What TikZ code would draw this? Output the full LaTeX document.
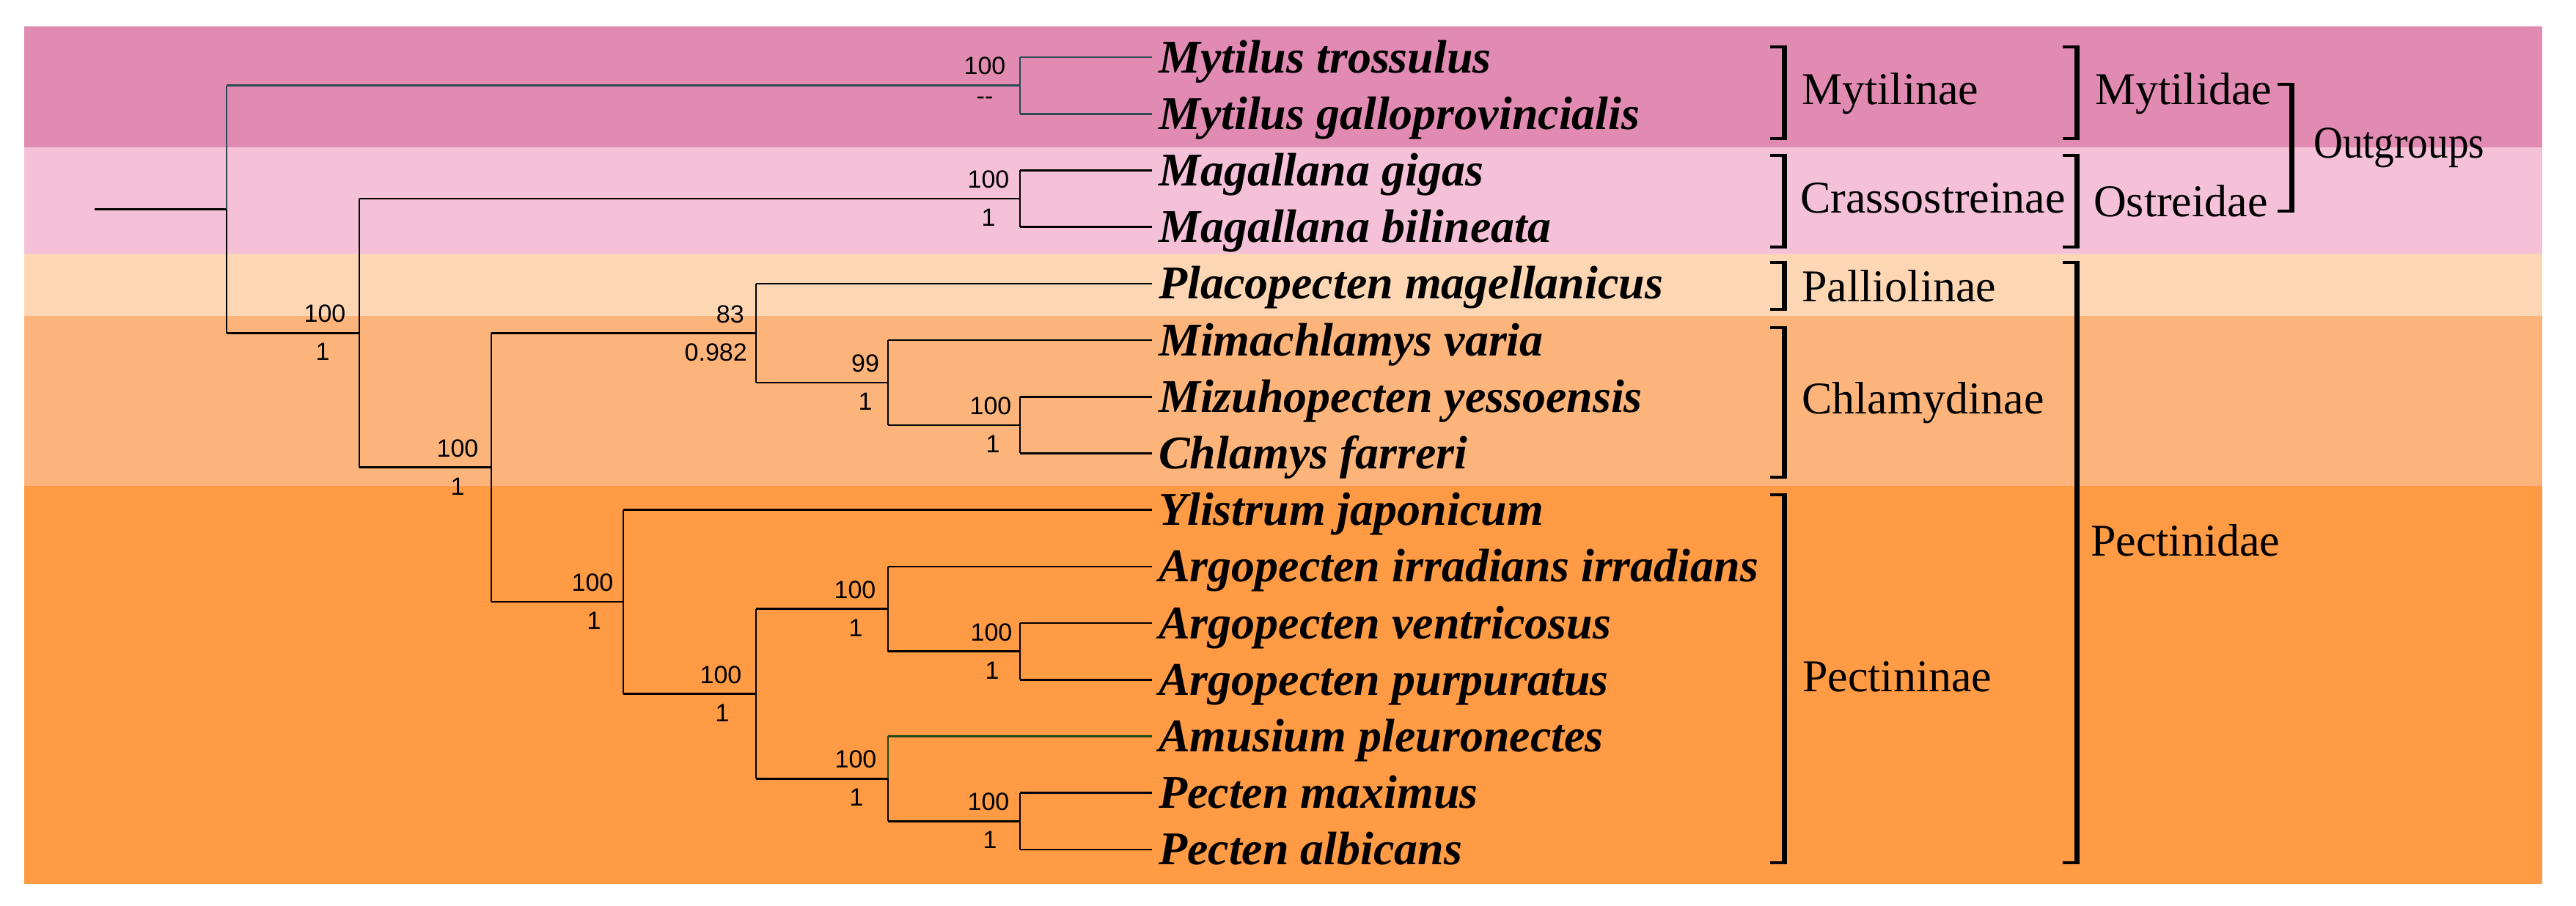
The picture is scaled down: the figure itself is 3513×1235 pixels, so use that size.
\documentclass[tikz,border=0pt]{standalone}
\usepackage{fontspec}
\setmainfont{Liberation Serif}
\newfontfamily\lsans{Liberation Sans}
\definecolor{bandA}{HTML}{E28BB2}
\definecolor{bandB}{HTML}{F4C1D9}
\definecolor{bandC}{HTML}{FDD6B4}
\definecolor{bandD}{HTML}{FDB47B}
\definecolor{bandE}{HTML}{FF9A45}
\definecolor{tealbr}{HTML}{2C4A52}
\definecolor{greenbr}{HTML}{1E4A12}
\newcommand{\clade}[3][black]{%
  \draw[vbr,#1] (#2) -- (#2 |- #3);
  \draw[hbr,#1] (#2 |- #3) -- (#3);}
\newcommand{\brak}[3]{%
  \draw[brkv] (#1,#2-2) -- (#1,#3+2);
  \draw[brks] (#1-19,#2) -- (#1+3.5,#2);
  \draw[brks] (#1-19,#3) -- (#1+3.5,#3);}
\begin{document}
\begin{tikzpicture}[x=1pt,y=-1pt,
  vbr/.style={line width=1.5pt},
  hbr/.style={line width=2.6pt},
  leaf/.style={anchor=base west, inner sep=0pt, font=\fontsize{64}{64}\selectfont\bfseries\itshape},
  grp/.style={anchor=base west, inner sep=0pt, font=\fontsize{62}{62}\selectfont},
  sup/.style={anchor=base, inner sep=0pt, font=\lsans\fontsize{34}{34}\selectfont},
  supr/.style={anchor=base east, inner sep=0pt, font=\lsans\fontsize{34}{34}\selectfont},
  brkv/.style={line width=7pt},
  brks/.style={line width=4.5pt}]
\useasboundingbox (0,0) rectangle (3513,1235);
\fill[white] (0,0) rectangle (3513,1235);
% background bands
\fill[bandA] (33,36) rectangle (3467,201);
\fill[bandB] (33,201) rectangle (3467,346);
\fill[bandC] (33,346) rectangle (3467,431);
\fill[bandD] (33,431) rectangle (3467,663);
\fill[bandE] (33,663) rectangle (3467,1206);

% leaf tips
\coordinate (t0) at (1571,78.0);
\coordinate (t1) at (1571,155.2);
\coordinate (t2) at (1571,232.4);
\coordinate (t3) at (1571,309.6);
\coordinate (t4) at (1571,386.8);
\coordinate (t5) at (1571,464.0);
\coordinate (t6) at (1571,541.2);
\coordinate (t7) at (1571,618.4);
\coordinate (t8) at (1571,695.6);
\coordinate (t9) at (1571,772.8);
\coordinate (t10) at (1571,850.0);
\coordinate (t11) at (1571,927.2);
\coordinate (t12) at (1571,1004.4);
\coordinate (t13) at (1571,1081.6);
\coordinate (t14) at (1571,1158.8);

% internal nodes
\coordinate (r0) at (129,285.5);
\coordinate (root) at (309,285.5);
\coordinate (nM) at (1391,116.6);
\coordinate (nN1) at (490,454.3);
\coordinate (nG) at (1391,271);
\coordinate (nN2) at (670,637.7);
\coordinate (n83) at (1031,454.35);
\coordinate (n99) at (1211,521.9);
\coordinate (nZ) at (1391,579.8);
\coordinate (nN3) at (850,821);
\coordinate (nN4) at (1031,946.5);
\coordinate (nA1) at (1211,830.7);
\coordinate (nA2) at (1391,888.6);
\coordinate (nP1) at (1211,1062.3);
\coordinate (nP2) at (1391,1120.2);

% branches
\draw[hbr] (r0) -- (root);
\clade[tealbr]{root}{nM}
\clade{root}{nN1}
\clade[tealbr]{nM}{t0}
\clade[tealbr]{nM}{t1}
\clade{nN1}{nG}
\clade{nN1}{nN2}
\clade{nG}{t2}
\clade{nG}{t3}
\clade{nN2}{n83}
\clade{nN2}{nN3}
\clade{n83}{t4}
\clade{n83}{n99}
\clade{n99}{t5}
\clade{n99}{nZ}
\clade{nZ}{t6}
\clade{nZ}{t7}
\clade{nN3}{t8}
\clade{nN3}{nN4}
\clade{nN4}{nA1}
\clade{nN4}{nP1}
\clade{nA1}{t9}
\clade{nA1}{nA2}
\clade{nA2}{t10}
\clade{nA2}{t11}
\clade[greenbr]{nP1}{t12}
\clade{nP1}{nP2}
\clade{nP2}{t13}
\clade{nP2}{t14}

% leaf labels
\node[leaf] (L0) at (1580,99) {Mytilus trossulus};
\node[leaf] (L1) at (1580,176.2) {Mytilus galloprovincialis};
\node[leaf] (L2) at (1580,253.4) {Magallana gigas};
\node[leaf] (L3) at (1580,330.6) {Magallana bilineata};
\node[leaf] (L4) at (1580,407.8) {Placopecten magellanicus};
\node[leaf] (L5) at (1580,485.0) {Mimachlamys varia};
\node[leaf] (L6) at (1580,562.2) {Mizuhopecten yessoensis};
\node[leaf] (L7) at (1580,639.4) {Chlamys farreri};
\node[leaf] (L8) at (1580,716.6) {Ylistrum japonicum};
\node[leaf] (L9) at (1580,793.8) {Argopecten irradians irradians};
\node[leaf] (L10) at (1580,871.0) {Argopecten ventricosus};
\node[leaf] (L11) at (1580,948.2) {Argopecten purpuratus};
\node[leaf] (L12) at (1580,1025.4) {Amusium pleuronectes};
\node[leaf] (L13) at (1580,1102.6) {Pecten maximus};
\node[leaf] (L14) at (1580,1179.8) {Pecten albicans};

% support values
\node[sup] (sM1) at (1343,101.6) {100};
\node[sup] (sM2) at (1343,142) {--};
\node[sup] (sG1) at (1348,256) {100};
\node[sup] (sG2) at (1348,308) {1};
\node[sup] (sZ1) at (1351,565) {100};
\node[sup] (sZ2) at (1354,617) {1};
\node[sup] (s991) at (1180,507) {99};
\node[sup] (s992) at (1180,559) {1};
\node[supr] (s831) at (1015,440) {83};
\node[supr] (s832) at (1019,492) {0.982};
\node[sup] (sN11) at (443,439) {100};
\node[sup] (sN12) at (440,491) {1};
\node[sup] (sN21) at (624,623) {100};
\node[sup] (sN22) at (624,675) {1};
\node[sup] (sN31) at (808,806) {100};
\node[sup] (sN32) at (810,858) {1};
\node[sup] (sN41) at (983,932) {100};
\node[sup] (sN42) at (985,984) {1};
\node[sup] (sA11) at (1166,816) {100};
\node[sup] (sA12) at (1167,868) {1};
\node[sup] (sA21) at (1352,874) {100};
\node[sup] (sA22) at (1353,926) {1};
\node[sup] (sP11) at (1167,1047) {100};
\node[sup] (sP12) at (1168,1099) {1};
\node[sup] (sP21) at (1348,1105) {100};
\node[sup] (sP22) at (1350,1157) {1};

% brackets, column 1
\brak{2433}{64}{189}
\brak{2433}{212}{337}
\brak{2433}{358}{422}
\brak{2433}{447}{651}
\brak{2433}{675}{1177}
% column 2
\brak{2832}{64}{189}
\brak{2832}{212}{337}
\brak{2832}{358}{1177}
% column 3
\brak{3125}{115}{288}

% group labels
\node[grp] (g1) at (2457,142) {Mytilinae};
\node[grp] (g2) at (2455,290) {Crassostreinae};
\node[grp] (g3) at (2457,411) {Palliolinae};
\node[grp] (g4) at (2457,564) {Chlamydinae};
\node[grp] (g5) at (2458,943) {Pectininae};
\node[grp] (f1) at (2857,142) {Mytilidae};
\node[grp] (f2) at (2855,295) {Ostreidae};
\node[grp] (f3) at (2851,758) {Pectinidae};
\node[grp,xscale=0.89] (o1) at (3155,215) {Outgroups};
\end{tikzpicture}
\end{document}
